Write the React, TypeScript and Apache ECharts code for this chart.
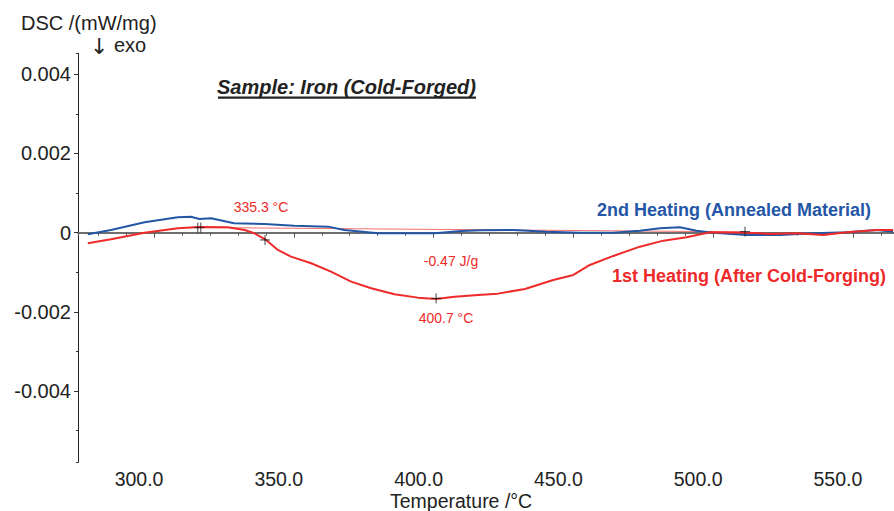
import React, { useEffect, useRef } from "react";
import * as echarts from "echarts";

// 1st heating (after cold-forging) – temperature (°C)
const redT = [276.3, 284.6, 296.6, 308.5, 316.2, 326.4, 332.4, 335.9, 340.1, 344.3, 349.0, 356.2, 363.3, 370.5, 377.7, 386.0, 394.4, 400.9, 407.5, 415.9, 423.0, 432.7, 442.8, 450.0, 455.9, 464.3, 473.8, 482.2, 490.5, 498.9, 512.0, 520.4, 529.9, 539.4, 547.8, 558.6, 564.4];
// DSC (mW/mg)
const redV = [-0.000268, -0.000167, 0, 0.000111, 0.000144, 0.000136, 0.000068, -0.000015, -0.000184, -0.000437, -0.000606, -0.000773, -0.000985, -0.001237, -0.001404, -0.001555, -0.001641, -0.001674, -0.001616, -0.001573, -0.00154, -0.001422, -0.001194, -0.001068, -0.000816, -0.000588, -0.000354, -0.000202, -0.000116, 0.00001, 0, -0.000033, -0.000015, -0.000058, 0.00001, 0.000068, 0.000068];

// 2nd heating (annealed material)
const blueT = [276.3, 284.6, 296.6, 308.5, 313.2, 316.2, 320.4, 328.6, 339.5, 350.2, 362.2, 368.1, 380.1, 392.0, 400.4, 409.9, 417.0, 428.5, 440.4, 452.4, 464.3, 473.8, 481.0, 488.1, 494.1, 500.1, 512.0, 523.9, 535.9, 547.8, 558.6, 564.4];
const blueV = [-0.00004, 0.000068, 0.000263, 0.000389, 0.000404, 0.000346, 0.000364, 0.000237, 0.00022, 0.000177, 0.000152, 0.000068, -0.000015, -0.000015, -0.000015, 0.000043, 0.000061, 0.000068, 0.000025, 0, 0, 0.00005, 0.000111, 0.000136, 0.00005, 0, -0.000058, -0.000058, -0.000015, 0.00001, 0.000068, 0.000025];

// evaluation baseline
const baseT = [316.2, 511.4];
const baseV = [0.00013, 0.00002];

// evaluation markers
const crossT = [339.7, 400.9, 511.4];
const crossV = [-0.000184, -0.00166, 0.000025];
const onsetT = [316.2];
const onsetV = [0.000126];

const xMin = 272.8;
const xMax = 564.7;
const yMin = -0.0058;
const yMax = 0.00453;

const zip = (a: number[], b: number[]) => a.map((v, i) => [v, b[i]]);

const RED = "#ee2a2a";
const BLUE = "#2456a6";
const FONT = "Liberation Sans, Arial, sans-serif";

export default function App() {
  const ref = useRef<HTMLDivElement>(null);
  useEffect(() => {
    document.body.style.margin = "0";
    const chart = echarts.init(ref.current!, undefined, { renderer: "svg" });
    const yFmt = (v: number) => {
      const k = Math.round(v * 1000);
      if (Math.abs(v * 1000 - k) > 1e-6 || k % 2 !== 0) return "";
      return k === 0 ? "0" : (k / 1000).toFixed(3);
    };
    const xFmt = (v: number) => {
      const k = Math.round(v / 50);
      if (Math.abs(v / 50 - k) > 1e-6) return "";
      return v.toFixed(1);
    };
    chart.setOption({
      animation: false,
      backgroundColor: "#ffffff",
      textStyle: { fontFamily: FONT },
      grid: { left: 78, right: 0, top: 53.3, bottom: 48.7, containLabel: false, outerBoundsMode: "none" },
      xAxis: [
        {
          type: "value", min: xMin, max: xMax, splitNumber: 6,
          axisLine: { show: true, lineStyle: { color: "#6e6e6e", width: 2 } },
          axisTick: { show: true, length: 5, lineStyle: { color: "#555" } },
          axisLabel: { show: true, formatter: xFmt, fontSize: 19.5, lineHeight: 17, color: "#222", margin: 8.5, padding: [0, 30, 0, 0], fontFamily: FONT, showMinLabel: false, showMaxLabel: false },
          splitLine: { show: false },
        },
        {
          type: "value", min: xMin, max: xMax, splitNumber: 30, position: "bottom",
          axisLine: { show: false },
          axisTick: { show: true, length: 3, lineStyle: { color: "#555" } },
          axisLabel: { show: false },
          splitLine: { show: false },
        },
      ],
      yAxis: [
        {
          type: "value", min: yMin, max: yMax, splitNumber: 10,
          axisLine: { show: true, lineStyle: { color: "#222", width: 1 } },
          axisTick: { show: true, length: 2, lineStyle: { color: "#333" } },
          axisLabel: { show: false },
          splitLine: { show: false },
        },
        {
          type: "value", min: yMin, max: yMax, splitNumber: 5, position: "left",
          axisLine: { show: false },
          axisTick: { show: true, length: 4, lineStyle: { color: "#333" } },
          axisLabel: { show: true, formatter: yFmt, fontSize: 20, color: "#222", margin: 7, fontFamily: FONT, showMinLabel: false, showMaxLabel: false },
          splitLine: { show: false },
        },
      ],
      series: [
        {
          name: "baseline", type: "line", data: zip(baseT, baseV), showSymbol: false,
          lineStyle: { color: "#f27070", width: 1 }, z: 2, silent: true,
        },
        {
          name: "2nd Heating", type: "line", data: zip(blueT, blueV), showSymbol: false,
          lineStyle: { color: BLUE, width: 2 }, z: 3, silent: true,
        },
        {
          name: "1st Heating", type: "line", data: zip(redT, redV), showSymbol: false,
          lineStyle: { color: RED, width: 2 }, z: 4, silent: true,
        },
        {
          name: "marks", type: "scatter", data: zip(crossT, crossV),
          symbol: "path://M0,5 L10,5 M5,0 L5,10", symbolSize: 10,
          itemStyle: { color: "transparent", borderColor: "#111", borderWidth: 1 }, z: 5, silent: true,
        },
        {
          name: "onset", type: "scatter", data: zip(onsetT, onsetV),
          symbol: "path://M0,5 L10,5 M3.5,0 L3.5,10 M6.5,0 L6.5,10", symbolSize: 10,
          itemStyle: { color: "transparent", borderColor: "#111", borderWidth: 1 }, z: 5, silent: true,
        },
      ],
      graphic: [
        { type: "text", x: 21, y: 22.5, style: { text: "DSC /(mW/mg)", font: `20px ${FONT}`, fill: "#222", textAlign: "left", textVerticalAlign: "middle" } },
        { type: "text", x: 90, y: 46, style: { text: "↓", font: `22px "DejaVu Sans", sans-serif`, fill: "#222", textAlign: "left", textVerticalAlign: "middle" } },
        { type: "text", x: 114, y: 45, style: { text: "exo", font: `20px ${FONT}`, fill: "#222", textAlign: "left", textVerticalAlign: "middle" } },
        { type: "text", x: 217, y: 87, style: { text: "Sample: Iron (Cold-Forged)", font: `italic bold 20px ${FONT}`, fill: "#222", textAlign: "left", textVerticalAlign: "middle" } },
        { type: "rect", shape: { x: 218, y: 96.5, width: 258, height: 2.2 }, style: { fill: "#222" } },
        { type: "text", x: 597, y: 209.7, style: { text: "2nd Heating (Annealed Material)", font: `bold 18px ${FONT}`, fill: BLUE, textAlign: "left", textVerticalAlign: "middle" } },
        { type: "text", x: 612, y: 275.7, style: { text: "1st Heating (After Cold-Forging)", font: `bold 18px ${FONT}`, fill: RED, textAlign: "left", textVerticalAlign: "middle" } },
        { type: "text", x: 261, y: 206.8, style: { text: "335.3 °C", font: `14px ${FONT}`, fill: RED, textAlign: "center", textVerticalAlign: "middle" } },
        { type: "text", x: 451, y: 261.4, style: { text: "-0.47 J/g", font: `14px ${FONT}`, fill: RED, textAlign: "center", textVerticalAlign: "middle" } },
        { type: "text", x: 446, y: 318.4, style: { text: "400.7 °C", font: `14px ${FONT}`, fill: RED, textAlign: "center", textVerticalAlign: "middle" } },
        { type: "text", x: 390, y: 501, style: { text: "Temperature /°C", font: `19.5px ${FONT}`, lineHeight: 19, fill: "#222", textAlign: "left", textVerticalAlign: "middle" } },
      ],
    });
    return () => chart.dispose();
  }, []);
  return <div ref={ref} style={{ width: 894, height: 511 }} />;
}
